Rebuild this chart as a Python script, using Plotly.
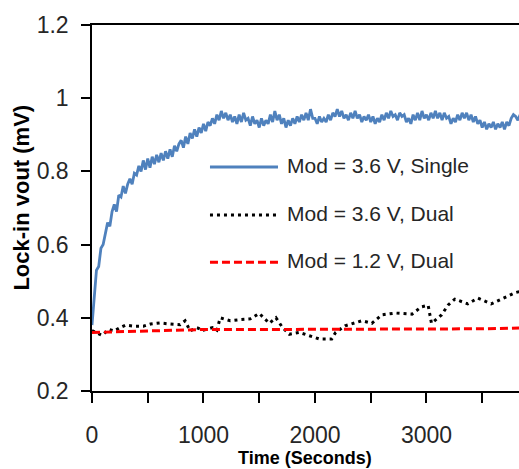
import plotly.graph_objects as go

# ---------------- data ----------------
blue_step = 20  # seconds between samples
blue_values = [
    0.38, 0.47, 0.53, 0.54, 0.59, 0.60, 0.63, 0.66, 0.65, 0.69,
    0.71, 0.69, 0.735, 0.73, 0.76, 0.74, 0.765, 0.78, 0.765, 0.795,
    0.79, 0.815, 0.80, 0.83, 0.805, 0.835, 0.81, 0.84, 0.82, 0.845,
    0.825, 0.85, 0.83, 0.855, 0.835, 0.86, 0.84, 0.87, 0.855, 0.875,
    0.885, 0.865, 0.895, 0.875, 0.905, 0.89, 0.915, 0.895, 0.92, 0.905,
    0.93, 0.91, 0.935, 0.925, 0.945, 0.93, 0.955, 0.94, 0.965, 0.945,
    0.96, 0.94, 0.955, 0.935, 0.95, 0.93, 0.955, 0.935, 0.96, 0.94,
    0.945, 0.925, 0.95, 0.93, 0.94, 0.92, 0.945, 0.925, 0.94, 0.93,
    0.955, 0.935, 0.965, 0.94, 0.955, 0.93, 0.945, 0.92, 0.94, 0.925,
    0.945, 0.93, 0.95, 0.935, 0.955, 0.94, 0.96, 0.94, 0.97, 0.945,
    0.945, 0.93, 0.95, 0.935, 0.945, 0.935, 0.955, 0.94, 0.96, 0.95,
    0.97, 0.95, 0.965, 0.945, 0.955, 0.94, 0.96, 0.945, 0.965, 0.945,
    0.955, 0.935, 0.95, 0.94, 0.955, 0.935, 0.95, 0.93, 0.945, 0.935,
    0.955, 0.94, 0.96, 0.945, 0.965, 0.95, 0.955, 0.94, 0.96, 0.95,
    0.955, 0.935, 0.945, 0.93, 0.955, 0.94, 0.96, 0.94, 0.965, 0.945,
    0.955, 0.94, 0.96, 0.945, 0.965, 0.945, 0.96, 0.94, 0.96, 0.945,
    0.95, 0.93, 0.945, 0.935, 0.955, 0.94, 0.96, 0.945, 0.96, 0.94,
    0.955, 0.935, 0.95, 0.93, 0.94, 0.92, 0.935, 0.915, 0.93, 0.92,
    0.935, 0.915, 0.93, 0.92, 0.935, 0.915, 0.935, 0.925, 0.945, 0.955,
    0.95, 0.94, 0.955,
]
blue_time = [i * blue_step for i in range(len(blue_values))]

black_time = [0, 90, 150, 200, 250, 300, 375, 460, 525, 610, 700, 790, 835, 880,
              940, 1000, 1080, 1120, 1150, 1240, 1330, 1420, 1500, 1590, 1650,
              1710, 1770, 1860, 1950, 2040, 2150, 2185, 2270, 2420, 2510, 2600,
              2720, 2870, 2955, 3015, 3045, 3135, 3195, 3255, 3370, 3460, 3580,
              3700, 3800, 3840]
black_values = [0.365, 0.352, 0.368, 0.364, 0.373, 0.380, 0.377, 0.377, 0.383,
                0.386, 0.383, 0.381, 0.392, 0.364, 0.373, 0.366, 0.373, 0.366,
                0.400, 0.392, 0.395, 0.397, 0.412, 0.385, 0.400, 0.373, 0.355,
                0.360, 0.351, 0.342, 0.342, 0.360, 0.378, 0.392, 0.385, 0.408,
                0.413, 0.410, 0.430, 0.434, 0.385, 0.408, 0.435, 0.451, 0.438,
                0.454, 0.438, 0.455, 0.469, 0.472]

red_time = [0, 200, 400, 600, 800, 1000, 1500, 2000, 2500, 3000, 3500, 3840]
red_values = [0.360, 0.362, 0.364, 0.366, 0.367, 0.368, 0.368, 0.368, 0.368,
              0.369, 0.370, 0.372]

series_names = ["Mod = 3.6 V, Single", "Mod = 3.6 V, Dual", "Mod = 1.2 V, Dual"]

y_tick_vals = [0.2, 0.4, 0.6, 0.8, 1.0, 1.2]
y_tick_text = ["0.2", "0.4", "0.6", "0.8", "1", "1.2"]
x_tick_vals = [0, 1000, 2000, 3000]
x_tick_text = ["0", "1000", "2000", "3000"]

x_title = "Time (Seconds)"
y_title = "Lock-in vout (mV)"

# ---------------- styles ----------------
BLUE = "#4F81BD"
RED = "#FF0000"
BLACK = "#000000"
TXT = "#262626"
FONT = "Liberation Sans, Arial, sans-serif"

styles = [
    dict(color=BLUE, width=2.8, dash="solid"),
    dict(color=BLACK, width=3, dash="3px,4px"),
    dict(color=RED, width=3, dash="8px,4px"),
]

fig = go.Figure()
for name, xs, ys, st in zip(series_names,
                            [blue_time, black_time, red_time],
                            [blue_values, black_values, red_values],
                            styles):
    fig.add_trace(go.Scatter(x=xs, y=ys, mode="lines", name=name,
                             line=st, showlegend=False))

# manual legend (sample line + text) in paper coordinates
legend_y = [0.612, 0.481, 0.352]
for name, st, ly in zip(series_names, styles, legend_y):
    fig.add_shape(type="line", xref="paper", yref="paper",
                  x0=0.2763, x1=0.4356, y0=ly, y1=ly, line=st)
    fig.add_annotation(xref="paper", yref="paper", x=0.452, y=ly + 0.004,
                       text=name, showarrow=False, xanchor="left",
                       yanchor="middle",
                       font=dict(family=FONT, size=21, color=TXT))

# axis titles
fig.add_annotation(xref="paper", yref="paper", x=0.4988, y=-0.150,
                   text=x_title, showarrow=False, xanchor="center",
                   yanchor="top",
                   font=dict(family=FONT, size=18, color="#000", weight="bold"))
fig.add_annotation(xref="paper", yref="paper", x=-0.166, y=0.5287,
                   text=y_title, showarrow=False, textangle=-90,
                   xanchor="center", yanchor="middle",
                   font=dict(family=FONT, size=22, color="#000", weight="bold"))

fig.update_layout(
    width=519, height=469,
    margin=dict(l=92, r=0, t=25, b=78),
    paper_bgcolor="white", plot_bgcolor="white",
    font=dict(family=FONT, size=23, color=TXT),
)
fig.update_xaxes(
    range=[0, 3830], tickvals=x_tick_vals, ticktext=x_tick_text,
    ticks="outside", ticklen=10, tickwidth=1.5, tickcolor=BLACK,
    minor=dict(dtick=500, tick0=0, ticks="outside", ticklen=10,
               tickwidth=1.5, tickcolor=BLACK, showgrid=False),
    showline=True, linecolor=BLACK, linewidth=1.5, mirror=True,
    showgrid=False, zeroline=False, ticklabelstandoff=13,
    tickfont=dict(family=FONT, size=23, color=TXT),
)
fig.update_yaxes(
    range=[0.2, 1.2], tickvals=y_tick_vals, ticktext=y_tick_text,
    ticks="outside", ticklen=9, tickwidth=1.5, tickcolor=BLACK,
    showline=True, linecolor=BLACK, linewidth=1.5, mirror=False,
    showgrid=False, zeroline=False, ticklabelstandoff=8,
    tickfont=dict(family=FONT, size=23, color=TXT),
)

# remove the page's default body margin so the figure fills the window
fig.write_html(
    "out.html",
    config={"displayModeBar": False},
    post_script="document.body.style.margin='0';"
                "document.body.style.overflow='hidden';",
)
